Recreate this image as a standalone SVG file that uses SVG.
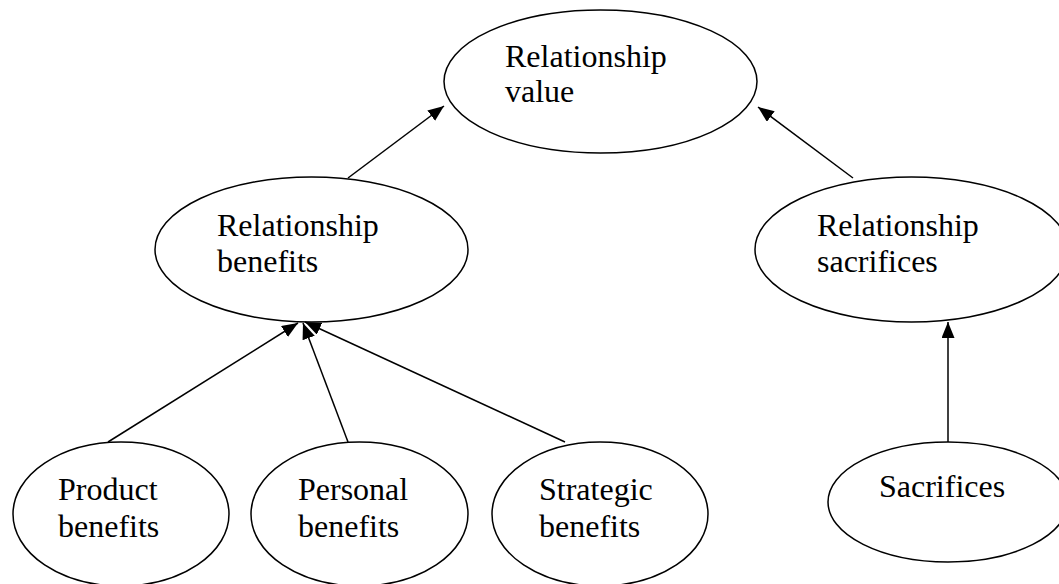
<svg xmlns="http://www.w3.org/2000/svg" width="1059" height="584" viewBox="0 0 1059 584">
<style>
.node ellipse{fill:#fff;stroke:#000;stroke-width:1.5}
.node text{font-family:"Liberation Serif","Times New Roman",serif;font-size:32px;fill:#000}
.edges line{stroke:#000;stroke-width:1.5;marker-end:url(#ah)}
</style>
<defs>
<marker id="ah" markerUnits="userSpaceOnUse" markerWidth="17" markerHeight="14" refX="16" refY="6.5" orient="auto">
<path d="M0,0 L16,6.5 L0,13 z" fill="#000"/>
</marker>
</defs>
<rect width="1059" height="584" fill="#fff"/>
<g id="n-value" class="node">
<ellipse cx="600.5" cy="81.5" rx="156.5" ry="71.5"/>
<text x="505" y="67">Relationship</text>
<text x="505" y="102">value</text>
</g>
<g id="n-benefits" class="node">
<ellipse cx="311.5" cy="249.5" rx="156.5" ry="72.5"/>
<text x="217" y="236">Relationship</text>
<text x="217" y="272">benefits</text>
</g>
<g id="n-sacrifices-rel" class="node">
<ellipse cx="911.5" cy="249.5" rx="156.5" ry="72.5"/>
<text x="817" y="236">Relationship</text>
<text x="817" y="272">sacrifices</text>
</g>
<g id="n-product" class="node">
<ellipse cx="121" cy="514" rx="108" ry="72"/>
<text x="58" y="500">Product</text>
<text x="58" y="537">benefits</text>
</g>
<g id="n-personal" class="node">
<ellipse cx="359.5" cy="514" rx="108.5" ry="72"/>
<text x="298" y="500">Personal</text>
<text x="298" y="537">benefits</text>
</g>
<g id="n-strategic" class="node">
<ellipse cx="600" cy="514" rx="108" ry="72"/>
<text x="539" y="500">Strategic</text>
<text x="539" y="537">benefits</text>
</g>
<g id="n-sacrifices" class="node">
<ellipse cx="948" cy="502" rx="120" ry="60"/>
<text x="879" y="497">Sacrifices</text>
</g>
<g id="edges" class="edges">
<line x1="348" y1="178" x2="444" y2="106"/>
<line x1="853" y1="178" x2="758" y2="107"/>
<line x1="108" y1="442" x2="298" y2="323"/>
<line x1="348" y1="442" x2="303" y2="323"/>
<line x1="565" y1="442" x2="305" y2="322"/>
<line x1="948" y1="442" x2="948" y2="322"/>
</g>
</svg>
